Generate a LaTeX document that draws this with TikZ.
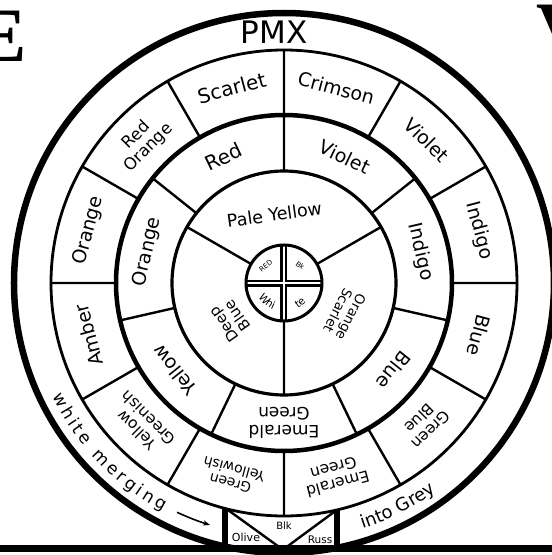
\documentclass[tikz,border=0pt]{standalone}
\usepackage{fontspec}
\setmainfont{DejaVu Sans}
\newfontfamily\capfont{Liberation Serif}
\usepackage{tikz}
\usetikzlibrary{arrows.meta, positioning, decorations.text}

\tikzset{
  rim/.style={line width=6.5pt},
  ring/.style={line width=2.8pt},
  divider/.style={line width=2.4pt},
  seg/.style={font=\fontsize{19}{21}\selectfont, align=center, inner sep=0pt},
  segtwo/.style={font=\fontsize{15.5}{16.5}\selectfont, align=center, inner sep=0pt},
  hub/.style={font=\fontsize{7}{7}\selectfont, inner sep=0pt},
  boxlbl/.style={font=\fontsize{11}{11}\selectfont, inner sep=0pt},
}

\begin{document}
\begin{tikzpicture}[x=1pt, y=1pt]
    \useasboundingbox (-284,-272) rectangle (268,283);
    \clip (-284,-272) rectangle (268,283);

    % cut-off letters at the page edge
    \node[anchor=north east, inner sep=0pt, font={\capfont\bfseries\fontsize{77}{77}\selectfont}] (capE) at (-257,272) {E};
    \node[anchor=north west, inner sep=0pt, font={\capfont\bfseries\fontsize{77}{77}\selectfont}] (capV) at (252,278) {V};

    % rings
    \draw[rim] (0,0) circle (270);
    \draw[ring] (0,0) circle (233);
    \draw[line width=4.5pt] (0,0) circle (168);
    \draw[line width=3.2pt] (0,0) circle (112);

    % dividers: outer ring (12), middle ring (7), inner ring (3)
    \draw[divider] (90:168) -- (90:233) (60:168) -- (60:233) (30:168) -- (30:233)
        (0:168) -- (0:233) (-30:168) -- (-30:233) (-60:168) -- (-60:233)
        (-90:168) -- (-90:233) (-120:168) -- (-120:233) (-150:168) -- (-150:233)
        (180:168) -- (180:233) (150:168) -- (150:233) (120:168) -- (120:233);
    \draw[divider] (90:112) -- (90:168) (38.57:112) -- (38.57:168) (-12.86:112) -- (-12.86:168)
        (-64.29:112) -- (-64.29:168) (-115.71:112) -- (-115.71:168) (-167.14:112) -- (-167.14:168)
        (141.43:112) -- (141.43:168);
    \draw[divider] (30:38) -- (30:112) (150:38) -- (150:112) (270:38) -- (270:112);

    % hub
    \begin{scope}
        \clip (0,0) circle (38);
        \draw[line width=7pt] (-40,0) -- (40,0) (0,-40) -- (0,40);
        \draw[white, line width=2.8pt] (-40,0) -- (40,0) (0,-40) -- (0,40);
    \end{scope}
    \draw[line width=3pt] (0,0) circle (38);
    \node[hub, rotate=38] (hubred) at (137:25) {RED};
    \node[hub, rotate=-35] (hubbk) at (47:24) {Bk};
    \path[decorate, decoration={text along path, text align=center,
        text={|\fontsize{10.5}{10.5}\selectfont|Whi}}] (198:29) arc[start angle=198, end angle=258, radius=29];
    \path[decorate, decoration={text along path, text align=center,
        text={|\fontsize{10.5}{10.5}\selectfont|te}}] (288:29) arc[start angle=288, end angle=330, radius=29];

    % outer band
    \node[font=\fontsize{31}{31}\selectfont, inner sep=0pt] (pmx) at (-10,251) {PMX};
    \path[decorate, decoration={text along path, text align={fit to path},
        text={|\fontsize{17}{17}\selectfont|white merging}}] (206:258) arc[start angle=206, end angle=242, radius=258];
    \draw[line width=1.6pt, -{Stealth[length=7pt]}] (245:253) arc[start angle=245, end angle=253, radius=253];
    \path[decorate, decoration={text along path, text align=center,
        text={|\fontsize{18}{18}\selectfont|into Grey}}] (-76:258) arc[start angle=-76, end angle=-50, radius=258];

    % outer ring
    \node[seg, font=\fontsize{20}{21}\selectfont, rotate=15] (scarlet) at (105:202) {Scarlet};
    \node[seg, rotate=-15] (crimson) at (75:202) {Crimson};
    \node[seg, rotate=-45] (violetout) at (45:202) {Violet};
    \node[seg, rotate=-75] (indigoout) at (15:202) {Indigo};
    \node[seg, rotate=-105] (blueout) at (-15:202) {Blue};
    \node[segtwo, rotate=-135] (greenblue) at (-45:200) {Green\\Blue};
    \node[segtwo, rotate=-165] (emeraldout) at (-75:200) {Emerald\\Green};
    \node[segtwo, font=\fontsize{14}{15}\selectfont, rotate=-195] (greenyel) at (-105:200) {Green\\Yellowish};
    \node[segtwo, rotate=-225] (yelgreen) at (-135:200) {Yellow\\Greenish};
    \node[seg, rotate=-255] (amber) at (-165:202) {Amber};
    \node[seg, rotate=75] (orangeout) at (165:202) {Orange};
    \node[segtwo, font=\fontsize{16.5}{17.5}\selectfont, rotate=45] (redorange) at (135:200) {Red\\Orange};

    % middle ring
    \node[seg, font=\fontsize{20}{21}\selectfont, rotate=25.71] (redmid) at (115.71:140) {Red};
    \node[seg, rotate=-25.71] (violetmid) at (64.29:140) {Violet};
    \node[seg, rotate=-77.14] (indigomid) at (12.86:140) {Indigo};
    \node[seg, rotate=-128.57] (bluemid) at (-38.57:140) {Blue};
    \node[segtwo, font=\fontsize{17}{18}\selectfont, rotate=-180] (emeraldmid) at (-90:140) {Emerald\\Green};
    \node[seg, rotate=-231.43] (yellowmid) at (-141.43:140) {Yellow};
    \node[seg, rotate=77.14] (orangemid) at (167.14:140) {Orange};

    % inner ring
    \node[seg, font=\fontsize{17.5}{18}\selectfont, rotate=8] (paleyellow) at (98:69) {Pale Yellow};
    \node[segtwo, font=\fontsize{15}{16}\selectfont, rotate=125] (deepblue) at (215:65) {Deep\\Blue};
    \node[segtwo, font=\fontsize{13.5}{14.5}\selectfont, rotate=-117] (orangescarlet) at (-27:68) {Orange\\Scarlet};

    % bottom box
    \draw[line width=7pt] (-284,-265.5) -- (268,-265.5);
    \draw[line width=6pt] (-59,-225) -- (-59,-265) (53,-227) -- (53,-265);
    \coordinate (boxtl) at (-56,-227);
    \coordinate (boxtr) at (50,-229);
    \draw[divider] (boxtl) -- (9,-274);
    \draw[divider] (boxtr) -- (-11,-274);
    \node[boxlbl, font=\fontsize{10}{10}\selectfont] (blk) at (0,-243) {Blk};
    \node[boxlbl] (olive) at (-38,-254) {Olive};
    \node[boxlbl, font=\fontsize{10.5}{10.5}\selectfont] (russ) at (36,-257) {Russ};
\end{tikzpicture}
\end{document}
